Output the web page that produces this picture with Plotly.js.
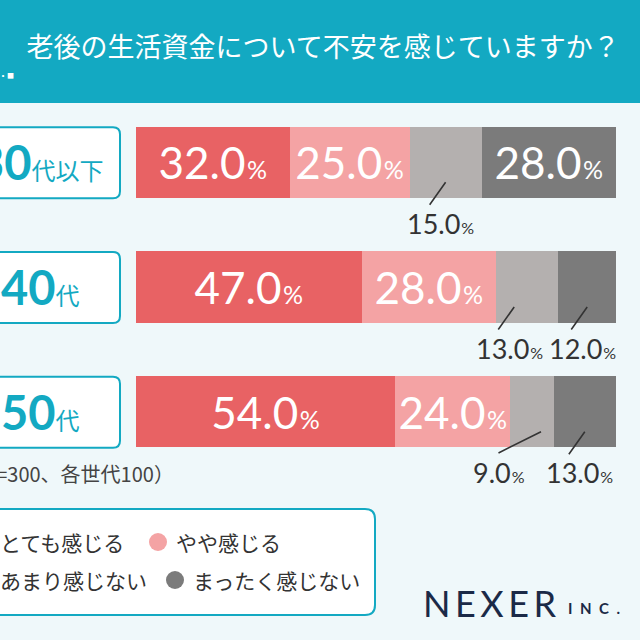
<!DOCTYPE html>
<html><head><meta charset="utf-8">
<script src="https://cdn.plot.ly/plotly-3.0.1.min.js"></script>
<style>html,body{margin:0;padding:0;background:#eff8fa;}#chart{width:640px;height:640px;}</style>
</head><body><div id="chart"></div>
<script>
// ---- data ----
const chartTitle = '老後の生活資金について不安を感じていますか？';
const categories = ['30代以下', '40代', '50代'];
const seriesNames = ['とても感じる', 'やや感じる', 'あまり感じない', 'まったく感じない'];
const veryMuch = [32.0, 47.0, 54.0];
const somewhat = [25.0, 28.0, 24.0];
const notMuch  = [15.0, 13.0, 9.0];
const notAtAll = [28.0, 12.0, 13.0];
const sampleNote = '（n=300、各世代100）';
const brandName = 'NEXER';
const brandSuffix = 'INC.';

// ---- styles / layout ----
const series = [veryMuch, somewhat, notMuch, notAtAll];
const colors = ['#e86264', '#f4a3a4', '#b4b0af', '#7b7b7b'];
const teal = '#13a9c2';
const bg = '#eff8fa';
const numFont = "Lato, 'Noto Sans CJK JP', sans-serif";
const jpFont = "'Noto Sans CJK JP', sans-serif";
const W = 640, H = 640, M = {l: 136, r: 24, t: 100, b: 166};
const plotW = W - M.l - M.r, plotH = H - M.t - M.b;
const px = x => (x - M.l) / plotW;
const py = y => (H - M.b - y) / plotH;

function fmt(v, pct) {
  return v.toFixed(1) + '<span style="font-size:' + pct + 'px">\u200a%</span>';
}

function roundRect(x0, y0, x1, y1, r) {
  const P = (x, y) => px(x) + ',' + py(y);
  return 'M' + P(x0 + r, y0) + ' L' + P(x1 - r, y0) + ' Q' + P(x1, y0) + ' ' + P(x1, y0 + r) +
    ' L' + P(x1, y1 - r) + ' Q' + P(x1, y1) + ' ' + P(x1 - r, y1) +
    ' L' + P(x0 + r, y1) + ' Q' + P(x0, y1) + ' ' + P(x0, y1 - r) +
    ' L' + P(x0, y0 + r) + ' Q' + P(x0, y0) + ' ' + P(x0 + r, y0) + ' Z';
}

const insideMin = 20;
const traces = series.map((vals, s) => ({
  type: 'bar', orientation: 'h', name: seriesNames[s],
  y: categories, x: vals,
  marker: {color: colors[s], line: {width: 0}},
  text: vals.map(v => v >= insideMin ? fmt(v, 25) : ''),
  textposition: 'inside', insidetextanchor: 'middle', textangle: 0,
  constraintext: 'none',
  textfont: {family: numFont, size: 44, color: '#ffffff'},
  hoverinfo: 'skip'
}));

const annotations = [];
const shapes = [];

// header band
shapes.push({type: 'rect', xref: 'paper', yref: 'paper', x0: px(0), x1: px(W), y0: py(0), y1: py(103),
  fillcolor: teal, line: {width: 0}, layer: 'below'});
annotations.push({xref: 'paper', yref: 'paper', x: px(3), y: py(76), text: '・', showarrow: false,
  font: {family: jpFont, size: 10, color: '#fff'}, xanchor: 'center', yanchor: 'middle'});
annotations.push({xref: 'paper', yref: 'paper', x: px(11), y: py(75), text: '■', showarrow: false,
  font: {family: jpFont, size: 7, color: '#fff'}, xanchor: 'center', yanchor: 'middle'});

// category boxes + labels
const rowH = plotH / categories.length;
categories.forEach((c, i) => {
  const cy = M.t + (i + 0.5) * rowH;
  shapes.push({type: 'path', xref: 'paper', yref: 'paper', path: roundRect(-36, cy - 35, 120, cy + 36, 7),
    fillcolor: '#ffffff', line: {color: teal, width: 2}});
  const m = c.match(/^(\d+)(.*)$/);
  annotations.push({xref: 'paper', yref: 'y', x: px(40), y: c, showarrow: false,
    xanchor: 'center', yanchor: 'middle',
    text: '<b>' + m[1] + '</b><span style="font-size:24px">' + m[2] + '</span>',
    font: {family: numFont, size: 47, color: teal}});
});

// outside labels with leader lines
const overrides = {'1-2': {tip: -13}, '2-2': {tip: 9, ax: -44, ay: 22, tx: -42}};
categories.forEach((c, r) => {
  let cum = 0;
  series.forEach((vals, s) => {
    const v = vals[r];
    const mid = cum + v / 2;
    cum += v;
    if (v >= insideMin) return;
    const o = Object.assign({tip: 0, ax: -17, ay: 24, tx: -5}, overrides[r + '-' + s] || {});
    annotations.push({x: mid, y: c, xref: 'x', yref: 'y', text: '', showarrow: true,
      arrowhead: 0, arrowwidth: 1.6, arrowcolor: '#333333', ax: o.ax, ay: o.ay,
      xshift: o.tip, yshift: -20, standoff: 0, startstandoff: 0});
    annotations.push({x: mid, y: c, xref: 'x', yref: 'y', text: fmt(v, 16), showarrow: false,
      xanchor: 'center', yanchor: 'middle', xshift: o.tip + o.tx, yshift: -61,
      font: {family: numFont, size: 27, color: '#333333'}});
  });
});

// sample note
annotations.push({xref: 'paper', yref: 'paper', x: px(176), y: py(473), xanchor: 'right', yanchor: 'middle',
  text: sampleNote, showarrow: false, font: {family: jpFont, size: 20, color: '#444444'}});

// legend box
shapes.push({type: 'path', xref: 'paper', yref: 'paper', path: roundRect(-12, 509, 375, 615, 10),
  fillcolor: '#ffffff', line: {color: teal, width: 2}});
const legendPos = [[-18, 542], [158, 542], [-18, 580], [175, 580]];
seriesNames.forEach((n, s) => {
  const [cx, cy] = legendPos[s];
  shapes.push({type: 'circle', xref: 'paper', yref: 'paper', x0: px(cx - 9), x1: px(cx + 9),
    y0: py(cy - 9), y1: py(cy + 9), fillcolor: colors[s], line: {width: 0}});
  annotations.push({xref: 'paper', yref: 'paper', x: px(cx + 16), y: py(cy), xanchor: 'left', yanchor: 'middle',
    text: n, showarrow: false, font: {family: jpFont, size: 21, color: '#333333'}});
});

// brand
annotations.push({xref: 'paper', yref: 'paper', x: px(421), y: py(603), xanchor: 'left', yanchor: 'middle',
  text: brandName.split('').join('\u2009'), showarrow: false,
  font: {family: "Lato, sans-serif", size: 36, color: '#1b2a47'}});
annotations.push({xref: 'paper', yref: 'paper', x: px(566), y: py(608), xanchor: 'left', yanchor: 'middle',
  text: '<b>' + brandSuffix.split('').join('\u2002') + '</b>', showarrow: false,
  font: {family: "Lato, sans-serif", size: 15, color: '#1b2a47'}});

const layout = {
  width: W, height: H, margin: M,
  paper_bgcolor: bg, plot_bgcolor: 'rgba(0,0,0,0)',
  barmode: 'stack', bargap: 0.43, showlegend: false,
  title: {text: chartTitle, x: 0.505, xanchor: 'center', y: 1 - 48 / H, yanchor: 'middle',
    font: {family: jpFont, size: 27, color: '#ffffff'}},
  xaxis: {range: [0, 100], visible: false, fixedrange: true},
  yaxis: {type: 'category', categoryorder: 'array', categoryarray: categories,
    range: [categories.length - 0.5, -0.5], visible: false, fixedrange: true},
  shapes: shapes, annotations: annotations
};

Plotly.newPlot('chart', traces, layout, {staticPlot: true, displayModeBar: false});
</script>
</body></html>
